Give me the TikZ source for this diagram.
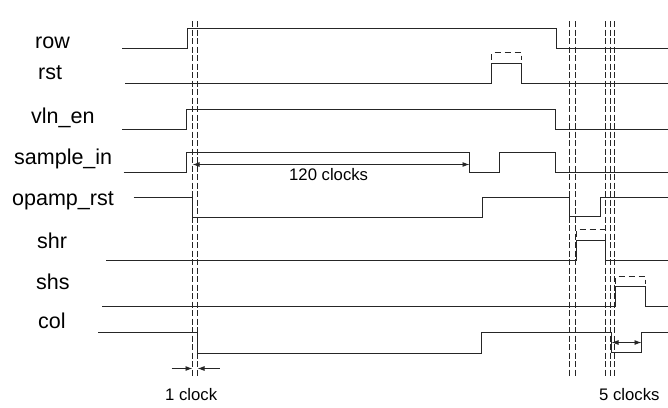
\documentclass[tikz,border=0pt]{standalone}
\usepackage{fontspec}
\setmainfont{Liberation Sans}
\usetikzlibrary{arrows.meta}
\begin{document}
\begin{tikzpicture}[x=1pt,y=-1pt,
  sig/.style={line width=1pt,color=black!85,line join=miter},
  guide/.style={line width=0.9pt,color=black!85,dash pattern=on 6pt off 2.5pt},
  capline/.style={line width=1.8pt,color=black!85,dash pattern=on 6pt off 4pt},
  dim/.style={line width=0.9pt,color=black!85,-{Latex[length=7pt,width=5pt]}},
  dimboth/.style={line width=0.9pt,color=black!85,{Latex[length=7pt,width=5pt]}-{Latex[length=7pt,width=5pt]}},
  lab/.style={anchor=base west,inner sep=0pt,font=\fontsize{21.5}{24}\selectfont},
  ann/.style={anchor=base west,inner sep=0pt,font=\fontsize{16.7}{19}\selectfont}]
\useasboundingbox (0,0) rectangle (668,407);
% labels
\node[lab] (lrow) at (35,48) {row};
\node[lab] (lrst) at (38,79) {rst};
\node[lab] (lvln) at (31,123) {vln\_en};
\node[lab] (lsam) at (14,164) {sample\_in};
\node[lab] (lopa) at (12,205) {opamp\_rst};
\node[lab] (lshr) at (37,248) {shr};
\node[lab] (lshs) at (36,289) {shs};
\node[lab] (lcol) at (38,328) {col};
% guide lines
\foreach \gx/\nm in {192.5/ga,197.5/gb,569.5/gc,575.5/gd,605.5/ge,610.5/gf,614.5/gg}{
  \coordinate (\nm top) at (\gx,21);
  \coordinate (\nm bot) at (\gx,376);
  \draw[guide] (\nm top) -- (\nm bot);
}
% signals
\draw[sig] (122,48.5) -- (187.5,48.5) -- (187.5,28.5) -- (556.5,28.5) -- (556.5,48.5) -- (668,48.5);
\draw[sig] (125,83.5) -- (491.5,83.5) -- (491.5,63.5) -- (521.5,63.5) -- (521.5,83.5) -- (668,83.5);
\draw[capline] (491.5,59.5) -- (491.5,52.5) -- (521.5,52.5) -- (521.5,59.5);
\draw[sig] (122,129.5) -- (186.5,129.5) -- (186.5,109.5) -- (555.5,109.5) -- (555.5,129.5) -- (668,129.5);
\draw[sig] (123.5,172.5) -- (186.5,172.5) -- (186.5,152.5) -- (469.5,152.5) -- (469.5,172.5) -- (499.5,172.5) -- (499.5,152.5) -- (555.5,152.5) -- (555.5,172.5) -- (668,172.5);
\draw[sig] (133.5,197.5) -- (192.5,197.5) -- (192.5,217.5) -- (482.5,217.5) -- (482.5,197.5) -- (569.5,197.5) -- (569.5,216.5) -- (600.5,216.5) -- (600.5,197.5) -- (668,197.5);
\draw[sig] (106,260.5) -- (576.5,260.5) -- (576.5,240.5) -- (605.5,240.5) -- (605.5,260.5) -- (668,260.5);
\draw[capline] (576.5,236.5) -- (576.5,229.5) -- (605.5,229.5) -- (605.5,236.5);
\draw[sig] (102,306.5) -- (615.5,306.5) -- (615.5,286.5) -- (645.5,286.5) -- (645.5,306.5) -- (668,306.5);
\draw[capline] (615.5,283.5) -- (615.5,276.5) -- (645.5,276.5) -- (645.5,283.5);
\draw[sig] (98,332.5) -- (197.5,332.5) -- (197.5,353.5) -- (481.5,353.5) -- (481.5,332.5) -- (611.5,332.5) -- (611.5,352.5) -- (641.5,352.5) -- (641.5,332.5) -- (668,332.5);
% dimensions
\coordinate (a120l) at (192.5,164.5);
\coordinate (a120r) at (469.5,164.5);
\draw[dimboth] (a120l) -- (a120r);
\node[ann] (t120) at (289,180) {120 clocks};
\coordinate (c1l) at (171.5,368.5);
\coordinate (c1a) at (192.5,368.5);
\coordinate (c1r) at (219.5,368.5);
\coordinate (c1b) at (197.5,368.5);
\draw[dim] (c1l) -- (c1a);
\draw[dim] (c1r) -- (c1b);
\node[ann] (t1) at (165,400) {1 clock};
\coordinate (c5l) at (611.5,342.5);
\coordinate (c5r) at (641.5,342.5);
\draw[dimboth] (c5l) -- (c5r);
\node[ann] (t5) at (599,400) {5 clocks};
\end{tikzpicture}
\end{document}
